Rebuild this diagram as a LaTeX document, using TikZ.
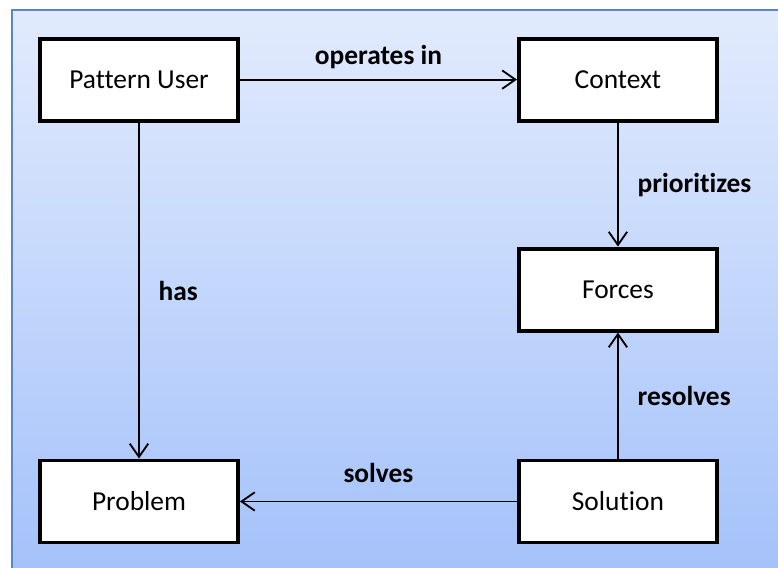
\documentclass[tikz,border=0pt]{standalone}
\usepackage{fontspec}
\setmainfont{Carlito}[Ligatures={NoCommon}]
\usepackage{tikz}
\usetikzlibrary{arrows.meta, positioning, backgrounds}
\definecolor{patframe}{HTML}{5B85C6}
\definecolor{pattop}{HTML}{E2EBFD}
\definecolor{patbottom}{HTML}{A2C0FA}

\begin{document}
\begin{tikzpicture}[
    node distance=3.1cm and 6.925cm,
    concept/.style={rectangle, draw=black, fill=white, line width=2.8pt, minimum width=4.95cm, minimum height=2.05cm, font=\fontsize{19.5}{23}\selectfont},
    arrow/.style={-{Straight Barb[length=0.33cm, width=0.46cm]}, line width=1.3pt},
    relation/.style={font=\fontsize{19.5}{23}\selectfont\bfseries}
]

% Frame
\useasboundingbox (0,0) rectangle (19.45,-14.2);
\begin{scope}[on background layer]
    \clip (0,0) rectangle (19.45,-14.2);
    \shade[top color=pattop, bottom color=patbottom, draw=patframe, line width=0.9pt] (0.3,-0.25) rectangle (20,-14.8);
\end{scope}

% Nodes
\node[concept] (user) at (3.475,-1.99) {Pattern User};
\node[concept, right=of user] (context) {Context};
\node[concept, below=of context] (forces) {Forces};
\node[concept, below=3.15cm of forces] (solution) {Solution};
\node[concept, left=of solution] (problem) {Problem};

% Arrows
\draw[arrow] (user) -- node[relation, above=4pt] {operates in} (context);
\draw[arrow] (context) -- node[relation, right=10pt] {prioritizes} (forces);
\draw[arrow] (user) -- node[relation, right=10pt] {has} (problem);
\draw[arrow] (solution) -- node[relation, right=10pt] {resolves} (forces);
\draw[arrow] (solution) -- node[relation, above=9.5pt] {solves} (problem);

\end{tikzpicture}
\end{document}
